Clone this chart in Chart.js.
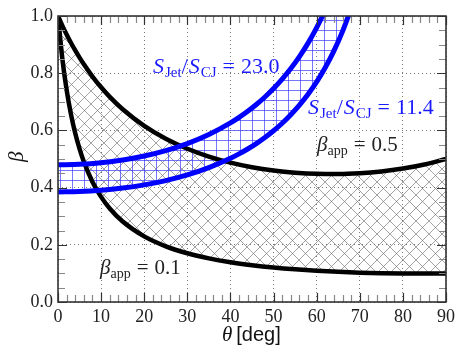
<!DOCTYPE html>
<html><head><meta charset="utf-8">
<script src="https://cdn.jsdelivr.net/npm/chart.js@4/dist/chart.umd.min.js"></script>
<style>html,body{margin:0;padding:0;background:#fff}#wrap{width:463px;height:356px}</style>
</head><body><div id="wrap"><canvas id="c" width="463" height="356"></canvas></div>
<script>
// ---- data ----
const thetaBlack = [0,1,2,3,4,5,6,8,10,12,15,20,25,30,35,40,45,50,55,60,65,70,75,80,85,90];
const betaApp01 = [1.0,0.8515,0.7416,0.657,0.5899,0.5354,0.4902,0.4198,0.3675,0.3271,0.2814,0.2294,0.1948,0.1705,0.1526,0.1390,0.1286,0.1204,0.1141,0.1092,0.1054,0.1027,0.1008,0.0998,0.0995,0.1];
const betaApp05 = [1.0,0.9664,0.9353,0.9064,0.8794,0.8543,0.8309,0.7883,0.7507,0.7174,0.6741,0.6159,0.5709,0.5359,0.5086,0.4874,0.4714,0.4598,0.4521,0.4480,0.4474,0.4502,0.4565,0.4666,0.4809,0.5];
const thetaBlue = [0,5,10,15,20,25,30,35,40,42,44,46,48,50,52,54,56,58,60,62,64,66,68];
const ratio114 = [0.3848,0.3863,0.3907,0.3984,0.4095,0.4246,0.4443,0.4698,0.5023,0.5178,0.5349,0.5539,0.5751,0.5986,0.6250,0.6547,0.6881,0.7262,0.7696,0.8197,0.8778,0.9461,1.0272];
const ratio230 = [0.4797,0.4815,0.4871,0.4966,0.5105,0.5293,0.5539,0.5856,0.6262,0.6455,0.6669,0.6906,0.7169,0.7463,0.7792,0.8161,0.8578,0.9052,0.9594,1.0218,1.0943,1.1794,1.2805];
const xTickValues = [0,10,20,30,40,50,60,70,80,90];
const yTickLabels = ['0.0','0.2','0.4','0.6','0.8','1.0'];

const pts = (xs, ys) => xs.map((x, i) => ({x, y: ys[i]}));

function makePattern(w, h, draw) {
  const c = document.createElement('canvas'); c.width = w; c.height = h;
  const g = c.getContext('2d'); draw(g, w, h);
  return g.createPattern(c, 'repeat');
}
const xHatch = makePattern(13, 13, (g, w, h) => {
  g.strokeStyle = 'rgba(110,110,110,0.8)'; g.lineWidth = 0.8;
  g.beginPath(); g.moveTo(-1,-1); g.lineTo(w+1,h+1); g.moveTo(w+1,-1); g.lineTo(-1,h+1); g.stroke();
});
const plusHatch = makePattern(12, 10, (g, w, h) => {
  g.strokeStyle = 'rgba(60,60,255,0.7)'; g.lineWidth = 1;
  g.beginPath(); g.moveTo(0.5,0); g.lineTo(0.5,h); g.moveTo(0,0.5); g.lineTo(w,0.5); g.stroke();
});

const SERIF = '"Liberation Serif", "DejaVu Serif", serif';

function rich(ctx, x, y, parts, color) {
  ctx.fillStyle = color; ctx.textBaseline = 'alphabetic'; ctx.textAlign = 'left';
  for (const p of parts) {
    ctx.font = p.f;
    ctx.fillText(p.t, x, y + (p.dy || 0));
    x += ctx.measureText(p.t).width + (p.sp || 0);
  }
}

const decor = {
  id: 'decor',
  afterDatasetsDraw(chart) {
    const ctx = chart.ctx, a = chart.chartArea;
    const xs = chart.scales.x, ys = chart.scales.y;
    ctx.save();
    // inward ticks on four sides
    for (let v = 0; v <= 90; v += 2) {
      const px = Math.round(xs.getPixelForValue(v)) + 0.5;
      const major = v % 10 === 0;
      const L = major ? 9 : 7;
      ctx.strokeStyle = major ? '#333' : '#888'; ctx.lineWidth = 1.2;
      ctx.beginPath(); ctx.moveTo(px, a.bottom); ctx.lineTo(px, a.bottom - L);
      ctx.moveTo(px, a.top); ctx.lineTo(px, a.top + L); ctx.stroke();
    }
    for (let k = 0; k <= 20; k++) {
      const v = k * 0.05;
      const py = Math.round(ys.getPixelForValue(v)) + 0.5;
      const major = k % 4 === 0;
      const L = major ? 9 : 7;
      ctx.strokeStyle = major ? '#333' : '#888'; ctx.lineWidth = 1.2;
      ctx.beginPath(); ctx.moveTo(a.left, py); ctx.lineTo(a.left + L, py);
      ctx.moveTo(a.right, py); ctx.lineTo(a.right - L, py); ctx.stroke();
    }
    // frame
    ctx.strokeStyle = '#333'; ctx.lineWidth = 1.6;
    ctx.strokeRect(a.left, a.top, a.right - a.left, a.bottom - a.top);
    // annotations
    const big = '22px ' + SERIF, bigI = 'italic 22px ' + SERIF, sub = '15px ' + SERIF;
    rich(ctx, 153, 73, [
      {t:'S', f:bigI, sp:1}, {t:'Jet', f:sub, dy:4}, {t:'/', f:big, sp:1}, {t:'S', f:bigI, sp:1}, {t:'CJ', f:sub, dy:4, sp:6},
      {t:'=', f:big, sp:6}, {t:'23.0', f:big}], '#1a1aff');
    rich(ctx, 308, 114, [
      {t:'S', f:bigI, sp:1}, {t:'Jet', f:sub, dy:4}, {t:'/', f:big, sp:1}, {t:'S', f:bigI, sp:1}, {t:'CJ', f:sub, dy:4, sp:6},
      {t:'=', f:big, sp:6}, {t:'11.4', f:big}], '#1a1aff');
    const m = '21px ' + SERIF, mI = 'italic 21px ' + SERIF, ms = '14px ' + SERIF;
    rich(ctx, 317, 151, [
      {t:'β', f:mI}, {t:'app', f:ms, dy:4, sp:6}, {t:'=', f:m, sp:6}, {t:'0.5', f:m}], '#222');
    rich(ctx, 100, 274, [
      {t:'β', f:mI}, {t:'app', f:ms, dy:4, sp:6}, {t:'=', f:m, sp:6}, {t:'0.1', f:m}], '#222');
    // axis titles
    rich(ctx, 222, 341, [{t:'θ', f:'italic 21px ' + SERIF, sp:4}, {t:'[deg]', f:'20px "Liberation Sans", Arial, sans-serif'}], '#111');
    ctx.save();
    ctx.translate(23, 162); ctx.rotate(-Math.PI / 2);
    rich(ctx, 0, 0, [{t:'β', f:'italic 21px ' + SERIF}], '#111');
    ctx.restore();
    ctx.restore();
  }
};

new Chart(document.getElementById('c'), {
  type: 'line',
  data: {
    datasets: [
      {label:'S ratio 11.4', data: pts(thetaBlue, ratio114), borderColor:'#0000ff', borderWidth:5, fill:'+1', backgroundColor: plusHatch, clip: 0},
      {label:'S ratio 23.0', data: pts(thetaBlue, ratio230), borderColor:'#0000ff', borderWidth:5, fill:false, clip: 0},
      {label:'beta_app 0.1', data: pts(thetaBlack, betaApp01), borderColor:'#000', borderWidth:4.5, fill:'+1', backgroundColor: xHatch, clip: 0},
      {label:'beta_app 0.5', data: pts(thetaBlack, betaApp05), borderColor:'#000', borderWidth:4.5, fill:false, clip: 0}
    ]
  },
  options: {
    responsive: false, animation: false,
    layout: {padding: {left: 0, top: 16, right: 17, bottom: 0}},
    elements: {point: {radius: 0}, line: {cubicInterpolationMode: 'monotone', capBezierPoints: true}},
    plugins: {legend: {display: false}, tooltip: {enabled: false}, filler: {drawTime: 'beforeDatasetsDraw'}},
    scales: {
      x: {
        type: 'linear', min: 0, max: 90,
        afterFit: s => { s.height = 54; },
        afterBuildTicks: s => { s.ticks = xTickValues.map(v => ({value: v})); },
        ticks: {font: {family: SERIF, size: 18}, color: '#222', padding: 4, maxRotation: 0, callback: v => String(v)},
        grid: {color: '#777', lineWidth: 1, drawTicks: false},
        border: {display: false, dash: [1, 3]}
      },
      y: {
        type: 'linear', min: 0, max: 1,
        afterFit: s => { s.width = 58; },
        afterBuildTicks: s => { s.ticks = yTickLabels.map(t => ({value: parseFloat(t)})); },
        ticks: {font: {family: SERIF, size: 18}, color: '#222', padding: 5, callback: (v, i) => yTickLabels[i]},
        grid: {color: '#777', lineWidth: 1, drawTicks: false},
        border: {display: false, dash: [1, 3]}
      }
    }
  },
  plugins: [decor]
});
</script></body></html>
